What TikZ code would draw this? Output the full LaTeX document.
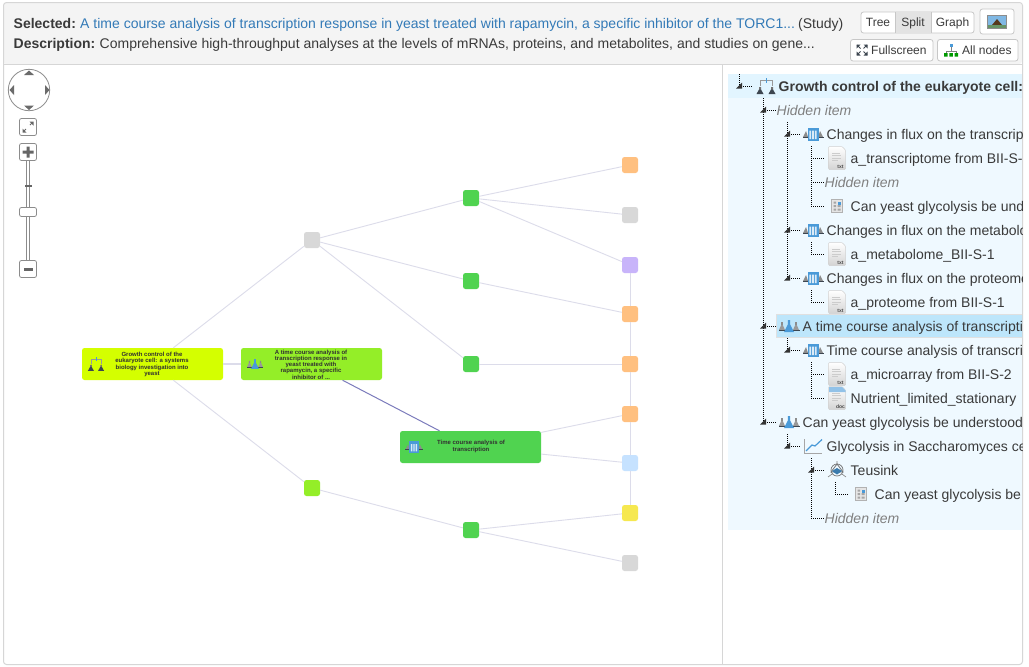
\documentclass[tikz,border=0pt]{standalone}
\usepackage{fontspec}
\setmainfont{Liberation Sans}
\usetikzlibrary{calc}
\definecolor{ink}{HTML}{3A3A3A}
\definecolor{linkblue}{HTML}{337AB7}
\definecolor{edgepale}{HTML}{DCDCEA}
\definecolor{edgedark}{HTML}{7C7CBC}
\definecolor{cGreen}{HTML}{50D350}
\definecolor{cLime}{HTML}{94EE28}
\definecolor{cRoot}{HTML}{D4FF00}
\definecolor{cOrange}{HTML}{FFC080}
\definecolor{cGrey}{HTML}{D8D8D8}
\definecolor{cPurple}{HTML}{C8B4FA}
\definecolor{cBlue}{HTML}{C6E2FF}
\definecolor{cYellow}{HTML}{F6E850}
\definecolor{treebg}{HTML}{EFF9FF}
\definecolor{rowbg}{HTML}{E2F5FF}
\definecolor{selbg}{HTML}{BDE6FB}
\definecolor{iconblue}{HTML}{4A9AD8}
\definecolor{icondark}{HTML}{3D4650}
\tikzset{
  small/.style={rounded corners=2.5pt,minimum width=16pt,minimum height=16pt,inner sep=0pt,fill=#1},
  big/.style={rounded corners=2.5pt,minimum width=141pt,minimum height=32pt,inner sep=0pt,fill=#1},
  bigtext/.style={font=\bfseries\fontsize{6}{6.25}\selectfont,text=ink!85!black,align=center,inner sep=0pt},
  pale/.style={draw=edgepale,line width=.9pt},
  dark/.style={draw=edgedark,line width=1pt},
  btn/.style={draw=black!22,fill=white,rounded corners=2.5pt,line width=.8pt,inner sep=0pt},
  btext/.style={font=\fontsize{12}{14}\selectfont,text=ink,inner sep=0pt,anchor=base},
  rowt/.style={font=\fontsize{14}{16}\selectfont,text=ink,anchor=base west,inner sep=0pt},
  hid/.style={rowt,font=\itshape\fontsize{14}{16}\selectfont,text=black!50},
  guide/.style={draw=black,line width=.9pt,dash pattern=on 1pt off 1pt},
  head/.style={font=\fontsize{14}{16}\selectfont,text=ink,anchor=base west,inner sep=0pt},
  navfill/.style={fill=black!58,draw=none},
  ctl/.style={draw=black!45,fill=white,rounded corners=2pt,line width=.8pt}
}
\newcommand{\invicon}[2]{\begin{scope}[shift={(#1,#2)}]
 \draw[black!40,line width=.7pt] (-6,0) -- (-6,-5.5) -- (6,-5.5) -- (6,0);
 \draw[iconblue,line width=1pt] (0,-8) -- (0,-3);
 \fill[black!55] (-7,1) rectangle (-5,4) (5,1) rectangle (7,4);
 \fill[icondark] (-7,3.5) -- (-9.5,8) -- (-2.5,8) -- (-5,3.5) -- cycle (5,3.5) -- (2.5,8) -- (9.5,8) -- (7,3.5) -- cycle;
\end{scope}}
\newcommand{\stuicon}[2]{\begin{scope}[shift={(#1,#2)}]
 \fill[black!45] (-7.8,-4) rectangle (-6.2,-1) (6.2,-4) rectangle (7.8,-1);
 \fill[black!40] (-7.8,-1) -- (-10,4) -- (-4,4) -- (-6.2,-1) -- cycle (6.2,-1) -- (4,4) -- (10,4) -- (7.8,-1) -- cycle;
 \fill[icondark] (-10.5,3.5) rectangle (10.5,5);
 \fill[iconblue] (-1.2,-6) -- (1.2,-6) -- (1.2,-1.5) -- (5,6) -- (-5,6) -- (-1.2,-1.5) -- cycle;
\end{scope}}
\newcommand{\assicon}[2]{\begin{scope}[shift={(#1,#2)}]
 \fill[black!45] (-7,-3) -- (-10,3) -- (-5,3) -- cycle (7,-3) -- (5,3) -- (10,3) -- cycle;
 \fill[icondark] (-10.5,2.5) rectangle (10.5,4);
 \fill[iconblue] (-5.5,-6.5) rectangle (5.5,6.5);
 \fill[white!80!iconblue] (-3.6,-3.5) rectangle (-1.9,5) (-.85,-3.5) rectangle (.85,5) (1.9,-3.5) rectangle (3.6,5);
\end{scope}}
\newcommand{\fileicon}[3]{\begin{scope}[shift={(#1,#2)}]
 \shade[top color=white,bottom color=black!17,draw=black!18,line width=.5pt,rounded corners=1pt] (-8.5,-11.5) -- (5,-11.5) -- (8.5,-8) -- (8.5,11.5) -- (-8.5,11.5) -- cycle;
 \draw[black!20,line width=.6pt] (-5,-5) -- (3,-5) (-5,-2.5) -- (4,-2.5) (-5,0) -- (4,0) (-5,2.5) -- (1,2.5);
 \node[font=\bfseries\fontsize{5}{5}\selectfont,text=black!70,inner sep=0pt] at (3.5,8.5) {#3};
\end{scope}}
\newcommand{\tabicon}[2]{\begin{scope}[shift={(#1,#2)}]
 \fill[black!10,draw=black!30,line width=.5pt] (-5.5,-6.5) rectangle (5.5,6.5);
 \fill[black!35] (-3.5,-4.5) rectangle (-1,-2.5) (-3.5,-1) rectangle (-1,1) (-3.5,2.5) rectangle (-1,4.5) (.5,2.5) rectangle (3.5,4.5) (.5,-1) rectangle (3.5,1);
 \fill[iconblue] (.5,-4.5) rectangle (3.5,-1.5);
\end{scope}}
\newcommand{\tri}[1]{\fill[black!80] ($(#1)+(-3,2.5)$) -- ($(#1)+(3,2.5)$) -- ($(#1)+(3,-3.5)$) -- cycle;}
\begin{document}
\begin{tikzpicture}[x=1pt,y=-1pt]
\useasboundingbox (0,0) rectangle (1029,667);
\fill[white] (0,0) rectangle (1029,667);
\fill[black!4.5,rounded corners=3pt] (3,3) -- (1022,3) -- (1022,64) -- (3,64) -- cycle;
\draw[black!16,line width=.9pt] (3,64) -- (1022,64) (722.5,64) -- (722.5,664);
\draw[black!16,line width=1pt,rounded corners=3pt] (3.5,2.5) rectangle (1022.5,664.5);
% header
\node[head] (sel) at (13.5,28) {\bfseries Selected:};
\node[head,text=linkblue] (lnk) at (80,28) {A time course analysis of transcription response in yeast treated with rapamycin, a specific inhibitor of the TORC1...};
\node[head] (typ) at (798,28) {(Study)};
\node[head] (des) at (13.5,48) {\bfseries Description:};
\node[head] (dtx) at (99.5,48) {Comprehensive high-throughput analyses at the levels of mRNAs, proteins, and metabolites, and studies on gene...};
% buttons
\draw[btn] (861,12) rectangle (974,33);
\fill[black!11] (895,12.4) rectangle (931,32.6);
\draw[black!22,line width=.8pt] (895,12) -- (895,33) (931,12) -- (931,33);
\node[btext] (bTree) at (878,26.5) {Tree};
\node[btext] (bSplit) at (913,26.5) {Split};
\node[btext] (bGraph) at (952.5,26.5) {Graph};
\draw[btn] (980,9) rectangle (1014,34);
\fill[black!45] (987,15) rectangle (1007,29);
\fill[iconblue!70!white] (988,16) rectangle (1006,25);
\fill[black!55!brown] (992,25) -- (997,19) -- (1002,25) -- cycle;
\fill[green!30!black!60] (988,25) rectangle (1006,28);
\draw[btn] (850.5,39.5) rectangle (933,61);
\node[btext,anchor=base west] (bFull) at (871,54.5) {Fullscreen};
\begin{scope}[shift={(862,50)},icondark,line width=1pt]
\draw (-5,-5) -- (-1.5,-1.5) (5,-5) -- (1.5,-1.5) (-5,5) -- (-1.5,1.5) (5,5) -- (1.5,1.5);
\fill (-5.5,-5.5) -- (-1.5,-5.5) -- (-5.5,-1.5) -- cycle (5.5,-5.5) -- (1.5,-5.5) -- (5.5,-1.5) -- cycle (-5.5,5.5) -- (-1.5,5.5) -- (-5.5,1.5) -- cycle (5.5,5.5) -- (1.5,5.5) -- (5.5,1.5) -- cycle;
\end{scope}
\draw[btn] (937.5,39.5) rectangle (1018,61);
\node[btext,anchor=base west] (bAll) at (962,54.5) {All nodes};
\begin{scope}[shift={(951,50)}]
\draw[black!50,line width=.5pt] (0,-3) -- (0,1) (-5,3) -- (-5,1) -- (5,1) -- (5,3);
\fill[iconblue] (-1.5,-6.5) rectangle (1.5,-3);
\fill[green!60!black] (-7,3) rectangle (-3.5,6.5) (-1.75,3) rectangle (1.75,6.5) (3.5,3) rectangle (7,6.5);
\end{scope}
% nav controls
\draw[black!45,line width=.8pt,fill=white] (29,90) circle (20.7);
\fill[navfill] (29,70.5) -- (24,75) -- (34,75) -- cycle (29,110) -- (24,105.5) -- (34,105.5) -- cycle (9.5,90) -- (14,85) -- (14,95) -- cycle (49.5,90) -- (45,85) -- (45,95) -- cycle;
\draw[ctl] (19.5,118.5) rectangle (36.5,135.5);
\draw[black!60,line width=1pt] (23.5,131.5) -- (26,129) (32.5,122.5) -- (30,125);
\fill[black!60] (22.5,132.5) -- (22.5,128.5) -- (26.5,132.5) -- cycle (33.5,121.5) -- (33.5,125.5) -- (29.5,121.5) -- cycle;
\draw[black!45,line width=.7pt,fill=white] (26.5,160) rectangle (29.5,262);
\draw[ctl] (19.5,143.5) rectangle (36.5,160.5);
\fill[black!60] (22.5,150.5) rectangle (33.5,153.5) (26.5,146.5) rectangle (29.5,157.5);
\draw[ctl] (19.5,260.5) rectangle (36.5,277.5);
\fill[black!60] (23.5,267.5) rectangle (32.5,270.5);
\fill[black!60] (24.5,185) rectangle (31.5,187);
\draw[ctl] (19.5,207.5) rectangle (36.5,216.5);
% graph nodes
\node[big=cRoot] (root) at (152.5,364) {};
\node[big=cLime] (study) at (311.5,364) {};
\node[big=cGreen] (assay) at (470.5,447) {};
\node[small=cGrey] (g1) at (312,240) {};
\node[small=cGreen] (a) at (471,198) {};
\node[small=cGreen] (b) at (471,281) {};
\node[small=cGreen] (c) at (471,364) {};
\node[small=cLime] (l1) at (312,488) {};
\node[small=cGreen] (d) at (471,530) {};
\node[small=cOrange] (r1) at (630,165) {};
\node[small=cGrey] (r2) at (630,215) {};
\node[small=cPurple] (r3) at (630,265) {};
\node[small=cOrange] (r4) at (630,314) {};
\node[small=cOrange] (r5) at (630,364) {};
\node[small=cOrange] (r6) at (630,414) {};
\node[small=cBlue] (r7) at (630,463) {};
\node[small=cYellow] (r8) at (630,513) {};
\node[small=cGrey] (r9) at (630,563) {};
\draw[pale] (root) -- (g1);
\draw[pale] (root) -- (l1);
\draw[pale,line width=1.3pt] (root) -- (study);
\draw[pale] (g1) -- (a);
\draw[pale] (g1) -- (b);
\draw[pale] (g1) -- (c);
\draw[pale] (a) -- (r1);
\draw[pale] (a) -- (r2);
\draw[pale] (a) -- (r3);
\draw[pale] (b) -- (r4);
\draw[pale] (c) -- (r5);
\draw[dark] (study) -- (assay);
\draw[pale] (assay) -- (r6);
\draw[pale] (assay) -- (r7);
\draw[pale] (l1) -- (d);
\draw[pale] (d) -- (r8);
\draw[pale] (d) -- (r9);
\draw[pale] (r3) -- (r4);
\draw[pale] (r4) -- (r5);
\draw[pale] (r5) -- (r6);
\draw[pale] (r6) -- (r7);
\draw[pale] (r7) -- (r8);
\node[bigtext] (rootT) at (152,364.5) {Growth control of the\\eukaryote cell: a systems\\biology investigation into\\yeast};
\node[bigtext] (studyT) at (311,364.5) {A time course analysis of\\transcription response in\\yeast treated with\\rapamycin, a specific\\inhibitor of ...};
\node[bigtext] (assayT) at (471,446.5) {Time course analysis of\\transcription};
\begin{scope}[shift={(96,364)},scale=.85]\invicon{0}{0}\end{scope}
\begin{scope}[shift={(255,364)},scale=.8]\stuicon{0}{0}\end{scope}
\begin{scope}[shift={(414,447)},scale=.85]\assicon{0}{0}\end{scope}
% tree panel
\begin{scope}
\clip (723,66) rectangle (1022,664);
\fill[treebg] (728,74) rectangle (1022,530);
\fill[rowbg] (728,74) rectangle (1022,98);
\fill[selbg,draw=black!12,line width=.5pt] (776.5,314.5) rectangle (1030,337.5);
% anchors for the guide lines
\foreach \n/\x/\y in {t0/739/86,t1/763/110,t2/787/134,t3/811/158,t4/811/182,t5/811/206,t6/787/230,t7/811/254,t8/787/278,t9/811/302,t10/763/326,t11/787/350,t12/811/374,t13/811/398,t14/763/422,t15/787/446,t16/811/470,t17/835/494,t18/811/518}
  \coordinate (\n) at (\x,\y);
\coordinate (u0) at (739,74);
\coordinate (u1) at (763,98);
\coordinate (u2) at (787,122);
\coordinate (u3) at (811,146);
\coordinate (u7) at (811,242);
\coordinate (u9) at (811,290);
\coordinate (u11) at (787,338);
\coordinate (u12) at (811,362);
\coordinate (u15) at (787,434);
\coordinate (u16) at (811,458);
\coordinate (u17) at (835,482);
\foreach \n/\e in {t0/752,t1/777,t2/800,t3/824,t4/825,t5/824,t6/800,t7/824,t8/800,t9/824,t10/776,t11/800,t12/824,t13/824,t14/776,t15/800,t16/824,t17/848,t18/825}
  \draw[guide] (\n) -- (\e,0 |- \n);
\draw[guide] (u0) -- (t0);
\draw[guide] (u1) -- (t14);
\draw[guide] (u2) -- (t8);
\draw[guide] (u3) -- (t5);
\draw[guide] (u7) -- (t7);
\draw[guide] (u9) -- (t9);
\draw[guide] (u11) -- (t11);
\draw[guide] (u12) -- (t13);
\draw[guide] (u15) -- (t15);
\draw[guide] (u16) -- (t18);
\draw[guide] (u17) -- (t17);
\foreach \n in {t0,t1,t2,t6,t8,t10,t11,t14,t15,t16} {\tri{\n}}
\invicon{766}{86}
\assicon{813}{134}\assicon{813}{230}\assicon{813}{278}\assicon{813}{350}
\stuicon{789}{326}\stuicon{789}{422}
\fileicon{837}{158}{txt}\fileicon{837}{254}{txt}\fileicon{837}{302}{txt}\fileicon{837}{374}{txt}\fileicon{837}{398}{doc}
\fill[iconblue!60] (829,387) -- (842,387) -- (845.5,390.5) -- (845.5,392) -- (829,392) -- cycle;
\tabicon{837}{206}\tabicon{861}{494}
\begin{scope}[shift={(813,446)}]
\draw[black!35,line width=1.2pt] (-8.5,-7) -- (-8.5,7.5) -- (9,7.5);
\draw[iconblue,line width=1.2pt] (-7,5) -- (-1,-1) -- (2,0) -- (9,-6.5);
\end{scope}
\begin{scope}[shift={(837,470)}]
\draw[black!50,line width=.6pt] (0,-9) -- (0,-5) (-9,7) -- (-5,4) (9,7) -- (5,4);
\draw[black!55,line width=.8pt] (0,-6) -- (-6,2) -- (6,2) -- cycle;
\fill[iconblue!80!black] (-5,1) -- (0,4.5) -- (5,1) -- (0,-2) -- cycle;
\draw[black!55,line width=.7pt] (0,0) circle (6);
\end{scope}
\node[rowt,font=\bfseries\fontsize{14}{16}\selectfont] (n0) at (778.5,91) {Growth control of the eukaryote cell:};
\node[hid] (n1) at (776.5,115) {Hidden item};
\node[rowt] (n2) at (826.5,139) {Changes in flux on the transcrip};
\node[rowt] (n3) at (850.5,163) {a\_transcriptome from BII-S-};
\node[hid] (n4) at (824.5,187) {Hidden item};
\node[rowt] (n5) at (850.5,211) {Can yeast glycolysis be und};
\node[rowt] (n6) at (826.5,235) {Changes in flux on the metabolo};
\node[rowt] (n7) at (850.5,259) {a\_metabolome\_BII-S-1};
\node[rowt] (n8) at (826.5,283) {Changes in flux on the proteome};
\node[rowt] (n9) at (850.5,307) {a\_proteome from BII-S-1};
\node[rowt] (n10) at (802.5,331) {A time course analysis of transcripti};
\node[rowt] (n11) at (826.5,355) {Time course analysis of transcri};
\node[rowt] (n12) at (850.5,379) {a\_microarray from BII-S-2};
\node[rowt] (n13) at (850.5,403) {Nutrient\_limited\_stationary};
\node[rowt] (n14) at (802.5,427) {Can yeast glycolysis be understood};
\node[rowt] (n15) at (826.5,451) {Glycolysis in Saccharomyces ce};
\node[rowt] (n16) at (850.5,475) {Teusink};
\node[rowt] (n17) at (874.5,499) {Can yeast glycolysis be};
\node[hid] (n18) at (824.5,523) {Hidden item};
\end{scope}
\end{tikzpicture}
\end{document}
